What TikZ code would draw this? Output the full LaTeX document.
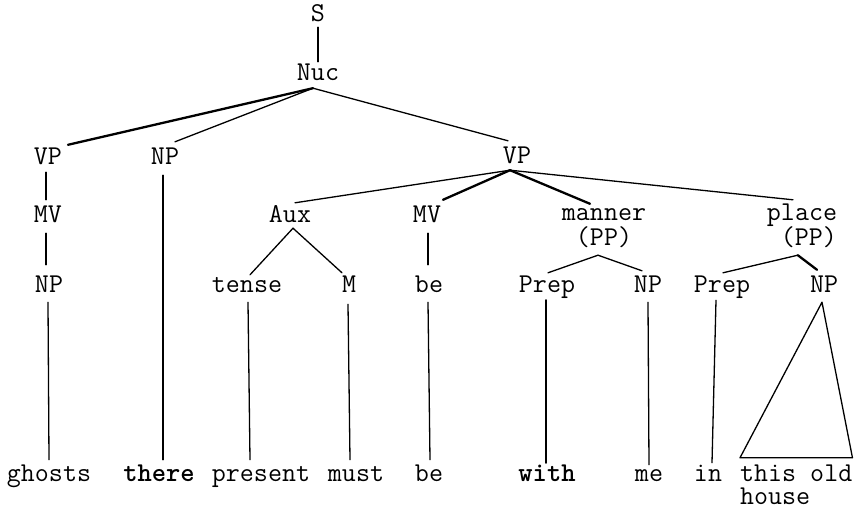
\documentclass[tikz,border=0pt]{standalone}
\usetikzlibrary{calc}
\begin{document}
\begin{tikzpicture}[x=1pt,y=-1pt,
  lbl/.style={inner sep=0pt,anchor=base,text height=16pt,text depth=0pt,
    font=\fontsize{27.2}{28}\selectfont\ttfamily},
  bld/.style={lbl,font=\fontsize{27.2}{28}\selectfont\ttfamily\bfseries},
  edge/.style={line width=1.3pt,line cap=round},
  heavy/.style={line width=2.3pt,line cap=round}]
\useasboundingbox[fill=white] (0,0) rectangle (857,510);
% level 0-1
\node[lbl] (S) at (318,22) {S};
\node[lbl] (Nuc) at (318,81) {Nuc};
% level 2
\node[lbl] (VP1) at (48,165) {VP};
\node[lbl] (NP1) at (165,165) {NP};
\node[lbl] (VP2) at (517,164) {VP};
% level 3
\node[lbl] (MV1) at (48,223) {MV};
\node[lbl] (Aux) at (290,223) {Aux};
\node[lbl] (MV2) at (427,223) {MV};
\node[lbl] (man) at (604,221) {manner};
\node[lbl] (manPP) at (604,246) {(PP)};
\node[lbl] (pla) at (802,221) {place};
\node[lbl,anchor=base east] (plaPP) at (837,246) {(PP)};
% level 4
\node[lbl] (NP3) at (49,293) {NP};
\node[lbl] (tense) at (247,293) {tense};
\node[lbl] (M) at (349,293) {M};
\node[lbl] (be) at (429,293) {be};
\node[lbl] (Prep1) at (547,293) {Prep};
\node[lbl] (NP4) at (648,293) {NP};
\node[lbl] (Prep2) at (722,293) {Prep};
\node[lbl] (NP5) at (824,293) {NP};
% words
\node[lbl] (ghosts) at (49,482) {ghosts};
\node[bld] (there) at (159,482) {there};
\node[lbl] (present) at (261,482) {present};
\node[lbl] (must) at (356,482) {must};
\node[lbl] (be2) at (429,482) {be};
\node[bld] (with) at (547,482) {with};
\node[lbl] (me) at (649,482) {me};
\node[lbl] (in) at (708,482) {in};
\node[lbl,anchor=base west] (tol) at (740,482) {this old};
\node[lbl,anchor=base west] (house) at (740,504) {house};
% apex points
\coordinate (Nuc-a) at ($(Nuc.south)+(-5,7)$);
\coordinate (VP2-a) at ($(VP2.south)+(-7,6)$);
\coordinate (Aux-a) at ($(Aux.south)+(3,5)$);
\coordinate (man-a) at ($(manPP.south)+(-6,9)$);
\coordinate (pla-a) at ($(plaPP.south)+(-11,9)$);
% edges
\draw[edge] ($(S.south)+(0,5)$) -- ($(Nuc.north)+(0,-3)$);
\draw[heavy] (Nuc-a) -- ($(VP1.north)+(20,-4)$);
\draw[edge] (Nuc-a) -- ($(NP1.north)+(10,-7)$);
\draw[edge] (Nuc-a) -- ($(VP2.north)+(-9,-7)$);
\draw[edge] ($(VP1.south)+(-2,7)$) -- ($(MV1.north)+(-2,-7)$);
\draw[edge] ($(MV1.south)+(-2,10)$) -- ($(NP3.north)+(-3,-12)$);
\draw[edge] ($(NP3.south)+(-1,9)$) -- ($(ghosts.north)+(0,-6)$);
\draw[edge] ($(NP1.south)+(-2,10)$) -- ($(there.north)+(4,-6)$);
\draw[edge] (VP2-a) -- ($(Aux.north)+(5,-4)$);
\draw[heavy] (VP2-a) -- ($(MV2.north)+(16,-7)$);
\draw[heavy] (VP2-a) -- ($(man.north)+(-14,-1)$);
\draw[edge] (VP2-a) -- ($(pla.north)+(-9,-5)$);
\draw[edge] (Aux-a) -- ($(tense.north)+(3,-2)$);
\draw[edge] (Aux-a) -- ($(M.north)+(-7,-4)$);
\draw[edge] ($(tense.south)+(1,9)$) -- ($(present.north)+(-11,-6)$);
\draw[edge] ($(M.south)+(-1,11)$) -- ($(must.north)+(-6,-6)$);
\draw[edge] ($(MV2.south)+(1,10)$) -- ($(be.north)+(-1,-12)$);
\draw[edge] ($(be.south)+(-1,9)$) -- ($(be2.north)+(1,-6)$);
\draw[edge] (man-a) -- ($(Prep1.north)+(1,-4)$);
\draw[edge] (man-a) -- ($(NP4.north)+(-6,-6)$);
\draw[heavy] ($(Prep1.south)+(-1,7)$) -- ($(with.north)+(-1,-3)$);
\draw[edge] ($(NP4.south)+(0,9)$) -- ($(me.north)+(0,-1)$);
\draw[edge] (pla-a) -- ($(Prep2.north)+(1,-4)$);
\draw[heavy] (pla-a) -- ($(NP5.north)+(-7,-7)$);
\draw[edge] ($(Prep2.south)+(-6,7)$) -- ($(in.north)+(4,-3)$);
\draw[edge,line join=round] ($(NP5.south)+(-2,9)$) -- ($(tol.north west)+(0,-8)$)
  -- ($(tol.north east)+(0,-8)$) -- cycle;
\end{tikzpicture}
\end{document}
